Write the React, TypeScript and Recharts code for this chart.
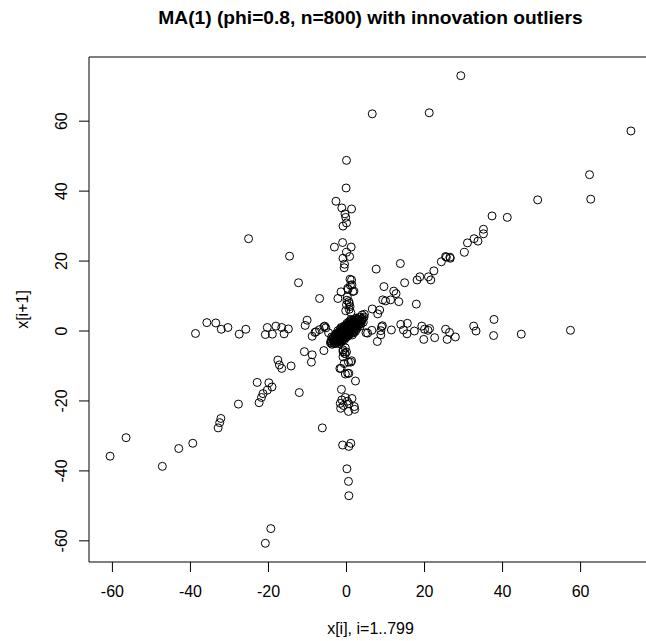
import React from 'react';
import { ScatterChart, Scatter, XAxis, YAxis, ReferenceArea } from 'recharts';

type Pt = [number, number];

const titleText = 'MA(1) (phi=0.8, n=800) with innovation outliers';
const xLabel = 'x[i], i=1..799';
const yLabel = 'x[i+1]';

const xTicks = [-60, -40, -20, 0, 20, 40, 60];
const yTicks = [-60, -40, -20, 0, 20, 40, 60];
const xDomain: [number, number] = [-66.0, 78.3];
const yDomain: [number, number] = [-66.05, 78.35];

// (x[i], x[i+1]) pairs
const armUp: Pt[] = [
  [0.0, 48.8], [-0.1, 40.9], [-2.7, 37.1], [-1.2, 35.2], [1.3, 34.9], [-0.4, 33.5], [-0.2, 32.5],
  [0.0, 30.9], [-0.9, 30.0], [-3.1, 24.0], [-1.0, 25.3], [1.2, 24.0], [0.0, 22.5], [0.8, 21.3],
  [-0.9, 20.8], [-0.5, 19.1], [-0.6, 18.1], [1.3, 14.6], [1.0, 13.1], [0.4, 11.9], [1.9, 11.4],
  [0.2, 9.8], [0.6, 8.4], [0.0, 7.5], [0.9, 7.0], [-2.2, 9.3], [0.9, 14.8], [1.4, 13.2],
  [1.6, 11.3], [0.3, 12.2], [0.7, 7.9], [-1.4, 11.2], [0.1, 8.8], [0.7, 6.2], [-0.2, 5.8], [1.1, 5.3],
];

const armDown: Pt[] = [
  [0.1, -39.4], [0.5, -43.0], [0.6, -47.1], [-1.0, -32.6], [1.1, -32.1], [0.6, -33.0], [-1.6, -20.7],
  [-1.5, -22.1], [0.5, -23.0], [2.0, -21.6], [2.1, -22.4], [0.2, -20.1], [-1.3, -16.7], [-1.2, -19.7],
  [-0.3, -19.0], [1.4, -19.3], [-0.8, -21.3], [0.6, -20.8], [2.3, -14.3], [0.6, -12.1], [-0.3, -12.3],
  [-1.4, -10.7], [-0.6, -9.3], [1.1, -8.9], [-0.3, -6.5], [0.0, -6.0], [-0.3, -4.8], [-0.9, -5.4],
  [-0.5, -6.4], [-0.9, -7.4], [-1.7, -10.7], [0.3, -12.1], [0.5, -8.9], [1.3, -8.5], [-0.9, -5.9],
];

const armLeft: Pt[] = [
  [-38.7, -0.7], [-35.8, 2.4], [-33.5, 2.3], [-32.1, 0.5], [-30.4, 1.0], [-27.5, -0.9], [-25.8, 0.5],
  [-20.3, 1.0], [-18.1, 1.4], [-16.6, 1.0], [-14.9, 0.6], [-20.8, -1.0], [-19.0, -0.9], [-16.0, -0.8],
  [-10.1, 3.1], [-10.6, 1.6], [-8.8, -1.5], [-8.1, -0.4], [-6.9, 0.4], [-5.6, 1.4], [-5.3, 0.9],
  [-4.6, -0.5], [-7.8, -0.2], [-5.8, 1.2],
];

const armRight: Pt[] = [
  [57.4, 0.2], [44.8, -0.9], [37.8, 3.3], [37.7, -1.3], [32.6, 1.4], [33.2, 0.0], [25.4, 0.5],
  [26.4, -0.4], [25.8, -2.4], [27.9, -1.7], [19.8, -2.4], [22.6, -1.9], [19.3, 1.4], [20.0, 0.5],
  [21.3, 0.7], [20.9, 0.2], [17.4, 0.0], [14.6, 0.3], [15.5, -0.8], [13.9, 1.9], [15.6, 2.2],
  [11.5, 0.3], [9.0, 1.2], [8.8, 0.1], [7.9, -3.0], [6.5, 0.2], [5.0, -0.5], [9.2, 1.5], [8.8, -1.1],
  [5.4, -0.6],
];

const diagUpper: Pt[] = [
  [72.9, 57.2], [62.3, 44.7], [62.6, 37.7], [49.0, 37.5], [41.2, 32.5], [37.3, 32.9], [35.1, 29.1],
  [35.1, 27.8], [32.7, 26.4], [33.7, 25.7], [31.0, 25.2], [30.2, 22.5], [25.4, 21.3], [26.5, 21.1],
  [24.3, 19.8], [25.6, 21.1], [26.6, 20.8], [22.4, 17.2], [18.1, 14.6], [18.8, 15.5], [21.0, 15.5],
  [21.6, 14.6], [14.9, 13.8], [9.6, 12.7], [12.1, 11.4], [12.7, 10.7], [9.3, 8.9], [10.0, 8.6],
  [11.3, 8.9], [13.4, 8.4], [17.9, 7.7], [6.6, 6.3], [8.5, 6.0], [8.0, 4.9], [4.0, 4.6],
];

const diagLower: Pt[] = [
  [-60.6, -35.8], [-56.5, -30.5], [-47.2, -38.7], [-43.0, -33.6], [-39.4, -32.1], [-32.9, -27.7],
  [-32.5, -26.2], [-32.2, -25.0], [-27.7, -20.9], [-22.4, -20.5], [-22.9, -14.7], [-19.9, -14.8],
  [-19.1, -16.0], [-20.3, -16.9], [-21.4, -17.9], [-21.8, -19.0], [-17.6, -8.3], [-16.6, -10.7],
  [-14.2, -10.0], [-17.2, -9.7], [-10.8, -5.9], [-8.8, -6.8], [-9.0, -8.9], [-5.8, -5.6], [-12.1, -17.6],
];

const scattered: Pt[] = [
  [29.3, 73.0], [6.6, 62.1], [21.2, 62.4], [-25.1, 26.4], [-14.6, 21.4], [-12.3, 13.8], [-6.9, 9.3],
  [7.6, 17.7], [13.8, 19.3], [-6.2, -27.7], [-19.4, -56.5], [-20.8, -60.7],
];

const coreCloud: Pt[] = [
  [-0.2, 0.1], [0.4, 0.7], [1.1, 0.5], [-1.0, -0.7], [0.1, -0.5], [0.7, 1.4], [-0.6, -1.3], [1.8, 1.2], [-1.7, -0.8], [0.3, -0.1], [-0.4, 0.6], [0.9, 0.0],
  [-1.3, -1.6], [1.5, 2.0], [0.2, 0.9], [-0.8, 0.2], [2.2, 1.3], [-2.1, -1.5], [0.6, -0.8], [-0.1, -1.1], [1.3, 0.9], [-1.5, -0.2], [0.0, 1.6], [2.6, 2.1],
  [-2.4, -2.2], [0.8, 0.3], [-0.5, -0.4], [1.6, 0.6], [-1.2, 0.4], [0.4, 1.9], [-0.9, -1.9], [2.0, 2.6], [-2.7, -1.3], [1.0, -0.4], [-0.3, 1.2], [0.5, -1.4],
  [3.0, 2.2], [-3.1, -2.5], [1.4, 1.7], [-1.6, -2.3], [0.2, 0.3], [-0.7, -0.1], [2.4, 0.8], [-2.0, -0.4], [0.9, 2.3], [-1.1, -2.6], [1.7, -0.2], [-0.2, -2.0],
  [3.4, 2.9], [-3.3, -3.0], [2.8, 1.5], [-2.6, -2.8], [1.2, 2.8], [-1.4, -0.1], [0.6, 0.1], [-0.4, -0.9], [1.9, 0.2], [-1.9, -2.0], [0.1, 2.2], [-0.6, 0.9],
  [3.8, 3.5], [-3.6, -2.2], [2.3, 3.1], [-2.9, -3.4], [0.7, -1.0], [-0.1, 0.5], [1.5, 1.0], [-1.0, -1.4], [2.1, 1.8], [-2.3, -1.8], [0.3, 1.4], [-0.9, -0.5],
  [4.2, 3.6], [-3.9, -3.3], [3.2, 1.8], [-2.2, -3.0], [1.0, 1.2], [-0.3, -0.3], [0.0, 0.0], [1.3, -0.6], [-1.2, 0.8], [2.7, 2.5], [-2.5, -1.0], [0.4, -0.6],
  [1.1, 3.3], [-1.3, -3.1], [3.6, 2.6], [-3.4, -1.8], [0.8, 2.0], [-0.8, -2.2], [1.8, 1.5], [-1.7, -1.2], [2.5, 1.2], [-2.8, -2.1], [0.2, -0.9], [-0.5, 1.5],
  [0.5, 0.5], [-0.1, -0.2], [0.9, 0.8], [-0.9, -0.8], [1.4, 1.3], [-1.4, -1.3], [0.3, 0.4], [-0.3, -0.5], [1.6, 1.9], [-1.6, -1.7], [0.7, 0.6], [-0.7, -0.7],
  [2.0, 1.1], [-2.1, -0.9], [1.0, 1.9], [-1.1, -2.1], [2.9, 2.0], [-2.8, -1.7], [1.9, 2.9], [-1.8, -2.8], [0.6, 1.1], [-0.6, -1.0], [1.2, 0.1], [-1.2, -0.2],
  [2.2, 2.3], [-2.2, -2.4], [1.7, 0.9], [-1.7, -0.6], [0.4, 1.0], [-0.4, -1.6], [1.1, 1.6], [-1.0, -0.3], [2.6, 1.6], [-2.4, -1.4], [0.8, -0.2], [-0.8, 0.4],
  [3.1, 2.7], [-3.0, -2.7], [2.4, 2.0], [-2.5, -2.3], [1.6, 2.4], [-1.5, -2.5], [0.1, 0.8], [-0.2, -0.7], [1.3, 0.4], [-1.3, -0.9], [0.5, 1.7], [-0.5, -1.8],
  [4.5, 4.0], [-3.7, -3.8], [3.9, 2.9], [-4.0, -2.9], [2.8, 3.4], [-2.6, -3.5], [3.3, 3.9], [-3.2, -3.6], [4.0, 3.2], [-3.5, -2.6], [2.5, 3.7], [-2.3, -3.2],
  [4.6, 4.8], [-4.1, -3.4], [4.3, 2.5], [-1.9, -3.6], [3.5, 1.4], [-3.8, -1.7], [2.2, 3.5], [-2.7, -0.8], [1.4, 3.0], [-1.2, -2.9], [3.7, 2.1], [-3.0, -1.3],
  [1.9, -0.5], [-1.6, 0.6], [2.7, 0.7], [-2.2, 0.1], [0.6, 2.6], [-0.7, -2.7], [0.0, -1.5], [0.1, 1.2], [1.5, -1.1], [-1.4, 1.0], [2.3, -0.1], [-2.0, -2.6],
];

const allPairs: Pt[] = [
  ...coreCloud, ...armUp, ...armDown, ...armLeft, ...armRight, ...diagUpper, ...diagLower, ...scattered,
];
const data = allPairs.map(([x, y]) => ({ x, y }));

const FONT = '"Liberation Sans", Arial, Helvetica, sans-serif';

const XTick = (props: any) => {
  const { x, y, payload } = props;
  return (
    <text x={x} y={y} textAnchor="middle" fontSize={16} fontFamily={FONT} fill="#000">
      {payload.value}
    </text>
  );
};

const YTick = (props: any) => {
  const { x, y, payload } = props;
  return (
    <text x={x} y={y} transform={`rotate(-90, ${x}, ${y})`} textAnchor="middle" fontSize={16} fontFamily={FONT} fill="#000">
      {payload.value}
    </text>
  );
};

const Ring = (props: any) => {
  const { cx, cy } = props;
  if (cx == null || cy == null) return <g />;
  return <circle cx={cx} cy={cy} r={4} fill="none" stroke="#000" strokeWidth={1} />;
};

export default function App() {
  return (
    <div style={{ position: 'fixed', left: 0, top: 0, width: 646, height: 641, overflow: 'hidden', background: '#fff' }}>
      <ScatterChart width={700} height={641} margin={{ top: 57, right: 48, bottom: 0, left: 0 }}>
        <XAxis
          type="number"
          dataKey="x"
          domain={xDomain}
          ticks={xTicks}
          interval={0}
          allowDataOverflow
          height={79}
          axisLine={false}
          tickLine={{ stroke: '#000', strokeWidth: 1 }}
          tickSize={10}
          tickMargin={25}
          tick={<XTick />}
        />
        <YAxis
          type="number"
          dataKey="y"
          domain={yDomain}
          ticks={yTicks}
          interval={0}
          allowDataOverflow
          width={89}
          axisLine={false}
          tickLine={{ stroke: '#000', strokeWidth: 1 }}
          tickSize={10}
          tickMargin={12}
          tick={<YTick />}
        />
        <ReferenceArea x1={xDomain[0]} x2={xDomain[1]} y1={yDomain[0]} y2={yDomain[1]} fill="none" fillOpacity={0} stroke="#000" strokeWidth={1} />
        <Scatter data={data} shape={<Ring />} isAnimationActive={false} />
      </ScatterChart>
      <svg width={646} height={641} style={{ position: 'absolute', left: 0, top: 0, pointerEvents: 'none' }}>
        <text x={370.5} y={24} textAnchor="middle" fontSize={19.2} fontWeight="bold" fontFamily={FONT} fill="#000">
          {titleText}
        </text>
        <text x={370.5} y={634} textAnchor="middle" fontSize={16} fontFamily={FONT} fill="#000">
          {xLabel}
        </text>
        <text x={28} y={309.5} transform="rotate(-90, 28, 309.5)" textAnchor="middle" fontSize={16} fontFamily={FONT} fill="#000">
          {yLabel}
        </text>
      </svg>
    </div>
  );
}
